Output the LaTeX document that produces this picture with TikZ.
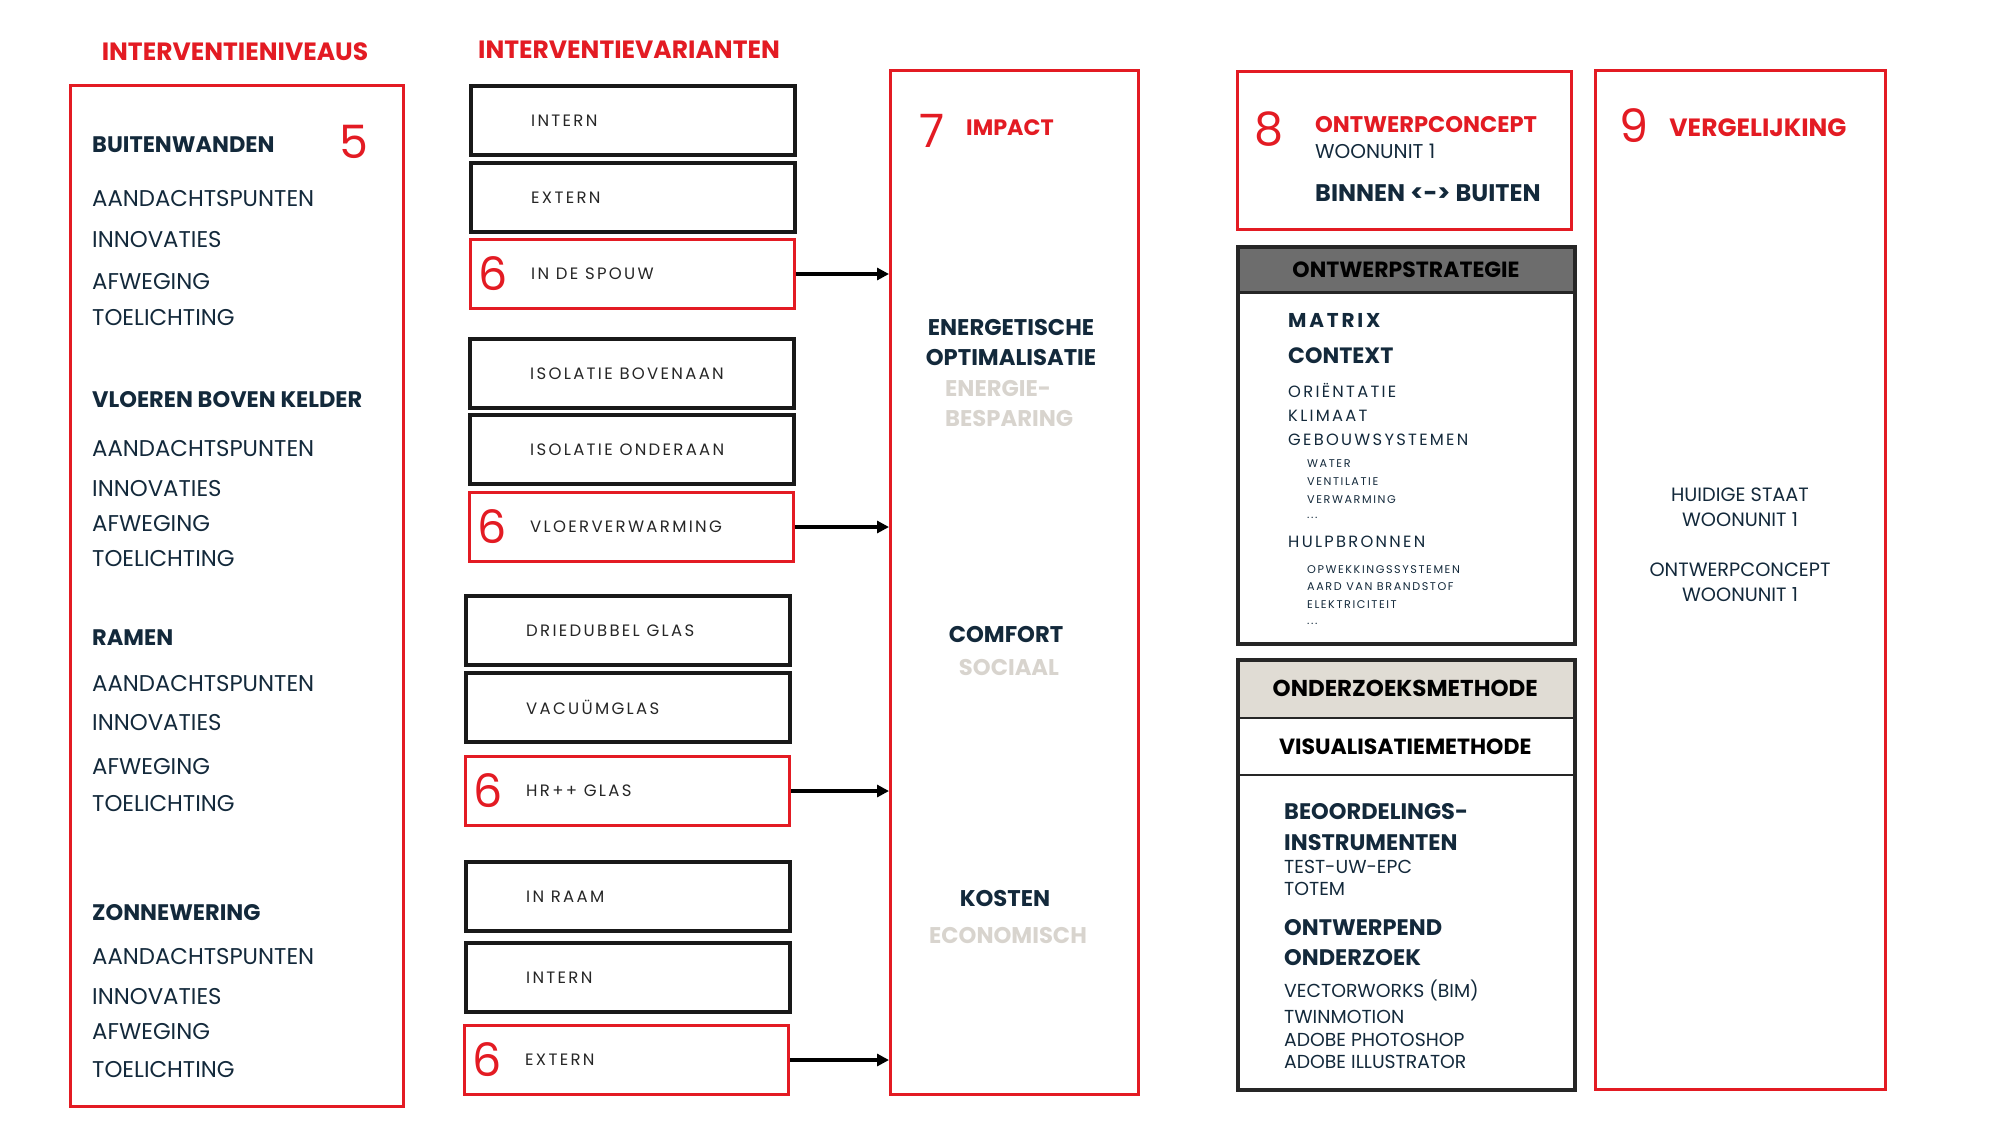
\documentclass[tikz,border=0pt]{standalone}
\usepackage{fontspec}
\setmainfont{Poppins}
\newfontfamily\spaced[LetterSpace=14]{Poppins}
\usetikzlibrary{arrows.meta, positioning}
\definecolor{rood}{HTML}{E31B23}
\definecolor{marine}{HTML}{13293B}
\definecolor{donkergrijs}{HTML}{6D6D6D}
\definecolor{beige}{HTML}{E0DCD4}
\definecolor{vaag}{HTML}{D8D4CE}
\newcommand{\pxsize}[1]{\fontsize{#1}{#1}\selectfont}

\begin{document}
\begin{tikzpicture}[x=1pt, y=-1pt,
  panel/.style={draw=rood, line width=3pt, anchor=north west},
  kader/.style={draw=black!85, line width=3.5pt, minimum width=337pt, anchor=north west},
  band/.style={draw=black!85, line width=3pt, minimum width=337pt, anchor=north west,
    font=\bfseries\pxsize{22.5}, text=black},
  kop/.style={text=rood, inner sep=0pt, font=\bfseries\pxsize{25}},
  num/.style={text=rood, inner sep=0pt, font=\pxsize{46}},
  item/.style={anchor=west, inner sep=0pt, text=marine, font=\pxsize{22.8}},
  titel/.style={item, font=\bfseries\pxsize{22.5}},
  klein/.style={item, font=\spaced\pxsize{16.3}},
  mini/.style={item, font=\spaced\pxsize{11.2}},
  blok/.style={inner sep=0pt, text=marine, align=center, font=\bfseries\fontsize{22.7}{30}\selectfont},
  vaagtekst/.style={blok, text=vaag},
  midden/.style={inner sep=0pt, text=marine, align=center, font=\fontsize{19.3}{25}\selectfont},
  vtext/.style={anchor=west, xshift=62pt, inner sep=0pt, text=black!85, font=\spaced\pxsize{16.5}},
  variant/.style={draw=black!90, line width=4pt, minimum width=324pt, minimum height=69pt,
    anchor=north west, label={[vtext]west:#1}},
  gekozen/.style={variant=#1, draw=rood, line width=3pt,
    label={[num, anchor=west, xshift=9pt]west:6}},
  pijl/.style={-{Triangle[length=12pt, width=12pt]}, line width=4.5pt}
]
  \useasboundingbox (0,0) rectangle (2000,1125);

  % interventieniveaus
  \node[kop] (kopniveaus) at (235,52) {INTERVENTIENIVEAUS};
  \node[panel, minimum width=333pt, minimum height=1021pt] (niveaus) at (69,84) {};
  \node[num] (vijf) at (354,142) {5};
  \node[titel] (wanden) at (92,145) {BUITENWANDEN};
  \node[item] (wandenA) at (92,199) {AANDACHTSPUNTEN};
  \node[item] (wandenB) at (92,240) {INNOVATIES};
  \node[item] (wandenC) at (92,282) {AFWEGING};
  \node[item] (wandenD) at (92,318) {TOELICHTING};
  \node[titel] (vloeren) at (92,400) {VLOEREN BOVEN KELDER};
  \node[item] (vloerenA) at (92,449) {AANDACHTSPUNTEN};
  \node[item] (vloerenB) at (92,489) {INNOVATIES};
  \node[item] (vloerenC) at (92,524) {AFWEGING};
  \node[item] (vloerenD) at (92,559) {TOELICHTING};
  \node[titel] (ramen) at (92,638) {RAMEN};
  \node[item] (ramenA) at (92,684) {AANDACHTSPUNTEN};
  \node[item] (ramenB) at (92,723) {INNOVATIES};
  \node[item] (ramenC) at (92,767) {AFWEGING};
  \node[item] (ramenD) at (92,804) {TOELICHTING};
  \node[titel] (zon) at (92,913) {ZONNEWERING};
  \node[item] (zonA) at (92,957) {AANDACHTSPUNTEN};
  \node[item] (zonB) at (92,997) {INNOVATIES};
  \node[item] (zonC) at (92,1032) {AFWEGING};
  \node[item] (zonD) at (92,1070) {TOELICHTING};

  % interventievarianten
  \node[kop] (kopvarianten) at (629,50) {INTERVENTIEVARIANTEN};
  \node[variant=INTERN] (intern) at (469,84) {};
  \node[variant=EXTERN] (extern) at (469,161) {};
  \node[gekozen=IN DE SPOUW] (spouw) at (469,238) {};
  \node[variant=ISOLATIE BOVENAAN] (boven) at (468,337) {};
  \node[variant=ISOLATIE ONDERAAN] (onder) at (468,413) {};
  \node[gekozen=VLOERVERWARMING] (vloer) at (468,491) {};
  \node[variant=DRIEDUBBEL GLAS] (driedubbel) at (464,594) {};
  \node[variant=VACUÜMGLAS] (vacuum) at (464,671) {};
  \node[gekozen=HR++ GLAS] (hrglas) at (464,755) {};
  \node[variant=IN RAAM] (inraam) at (464,860) {};
  \node[variant=INTERN] (zonintern) at (464,941) {};
  \node[gekozen=EXTERN] (zonextern) at (463,1024) {};

  % impact
  \node[panel, minimum width=248pt, minimum height=1024pt] (impact) at (889,69) {};
  \node[num] (zeven) at (932,131) {7};
  \node[kop, font=\bfseries\pxsize{22.3}] (impactkop) at (1010,128) {IMPACT};
  \node[blok] (energie) at (1011,342) {ENERGETISCHE\\OPTIMALISATIE};
  \node[vaagtekst, align=left, anchor=west] (besparing) at (945,404) {ENERGIE-\\BESPARING};
  \node[blok] (comfort) at (1006,634) {COMFORT};
  \node[vaagtekst] (sociaal) at (1009,667) {SOCIAAL};
  \node[blok] (kosten) at (1005,898) {KOSTEN};
  \node[vaagtekst] (economisch) at (1008,935) {ECONOMISCH};

  \draw[pijl] (spouw.east) -- (spouw.east -| impact.west);
  \draw[pijl] (vloer.east) -- (vloer.east -| impact.west);
  \draw[pijl] (hrglas.east) -- (hrglas.east -| impact.west);
  \draw[pijl] (zonextern.east) -- (zonextern.east -| impact.west);

  % ontwerpconcept
  \node[panel, minimum width=334pt, minimum height=158pt] (concept) at (1236,70) {};
  \node[num] (acht) at (1269,129) {8};
  \node[kop, anchor=west, font=\bfseries\pxsize{22.6}] (conceptkop) at (1315,125) {ONTWERPCONCEPT};
  \node[item, font=\pxsize{20}] (woonunit) at (1315,151) {WOONUNIT 1};
  \node[titel, font=\bfseries\pxsize{24}] (binnen) at (1315,193) {BINNEN <-> BUITEN};

  % ontwerpstrategie
  \node[band, fill=donkergrijs, minimum height=46pt, font=\bfseries\pxsize{22}] (stratkop) at (1236,245) {ONTWERPSTRATEGIE};
  \node[kader, minimum height=397pt] (strategie) at (1236,245) {};
  \node[titel, font=\spaced\bfseries\pxsize{20}] (matrix) at (1288,320) {MATRIX};
  \node[titel, font=\bfseries\pxsize{22.2}] (context) at (1288,356) {CONTEXT};
  \node[klein] (orientatie) at (1288,390) {ORIËNTATIE};
  \node[klein] (klimaat) at (1288,416) {KLIMAAT};
  \node[klein] (gebouw) at (1288,440) {GEBOUWSYSTEMEN};
  \node[mini] (water) at (1307,464) {WATER};
  \node[mini] (ventilatie) at (1307,482) {VENTILATIE};
  \node[mini] (verwarming) at (1307,500) {VERWARMING};
  \node[mini] (puntA) at (1307,518) {...};
  \node[klein] (hulp) at (1288,542) {HULPBRONNEN};
  \node[mini] (opwekking) at (1307,570) {OPWEKKINGSSYSTEMEN};
  \node[mini] (brandstof) at (1307,587) {AARD VAN BRANDSTOF};
  \node[mini] (elektriciteit) at (1307,605) {ELEKTRICITEIT};
  \node[mini] (puntB) at (1307,624) {...};

  % onderzoeksmethode
  \node[band, fill=beige, line width=1.5pt, minimum height=59pt, font=\bfseries\pxsize{23}] (onderzoekkop) at (1236,658) {ONDERZOEKSMETHODE};
  \node[band, line width=1.5pt, minimum height=57pt, font=\bfseries\pxsize{22}] (visualisatie) at (1236,717) {VISUALISATIEMETHODE};
  \node[kader, minimum height=430pt] (onderzoek) at (1236,658) {};
  \node[titel] (beoordeling) at (1284,812) {BEOORDELINGS-};
  \node[titel] (instrumenten) at (1284,843) {INSTRUMENTEN};
  \node[item, font=\pxsize{18.8}] (testuw) at (1284,867) {TEST-UW-EPC};
  \node[item, font=\pxsize{18.8}] (totem) at (1284,889) {TOTEM};
  \node[titel] (ontwerpend) at (1284,928) {ONTWERPEND};
  \node[titel] (onderzoekend) at (1284,958) {ONDERZOEK};
  \node[item, font=\pxsize{18.8}] (vectorworks) at (1284,990) {VECTORWORKS (BIM)};
  \node[item, font=\pxsize{18.8}] (twinmotion) at (1284,1017) {TWINMOTION};
  \node[item, font=\pxsize{18.8}] (photoshop) at (1284,1040) {ADOBE PHOTOSHOP};
  \node[item, font=\pxsize{18.8}] (illustrator) at (1284,1062) {ADOBE ILLUSTRATOR};

  % vergelijking
  \node[panel, minimum width=290pt, minimum height=1019pt] (vergelijking) at (1594,69) {};
  \node[num] (negen) at (1634,126) {9};
  \node[kop] (vergelijkingkop) at (1758,128) {VERGELIJKING};
  \node[midden] (huidig) at (1740,507) {HUIDIGE STAAT\\WOONUNIT 1};
  \node[midden] (ontwerp) at (1740,582) {ONTWERPCONCEPT\\WOONUNIT 1};
\end{tikzpicture}
\end{document}
